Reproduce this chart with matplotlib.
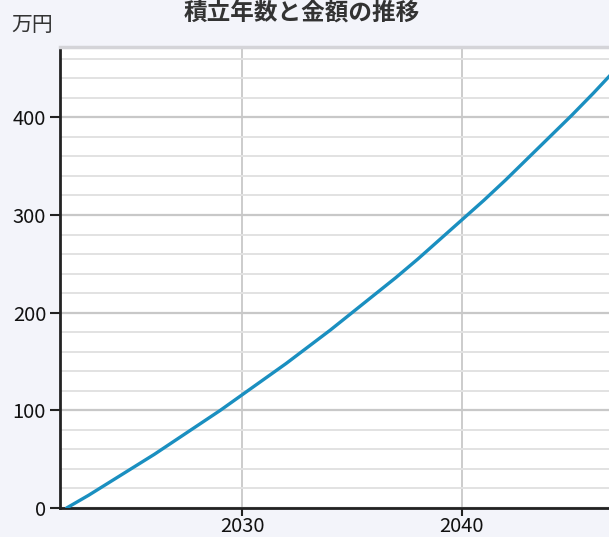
import matplotlib
matplotlib.use('Agg')
import matplotlib.pyplot as plt
from matplotlib.ticker import MultipleLocator

plt.rcParams['font.family'] = ['Noto Sans CJK JP', 'DejaVu Sans']

years = [2022, 2023, 2024, 2025, 2026, 2027, 2028, 2029, 2030, 2031, 2032, 2033, 2034,
         2035, 2036, 2037, 2038, 2039, 2040, 2041, 2042, 2043, 2044, 2045, 2046, 2047]
amounts = [0, 13, 27, 41, 55, 70, 85, 100, 116, 132, 148, 165, 182,
           200, 218, 236, 255, 275, 295, 315, 336, 358, 380, 402, 425, 449]
x_ticks = [2030, 2040]
y_ticks = [0, 100, 200, 300, 400]

fig = plt.figure(figsize=(6.09, 5.37), dpi=100)
fig.patch.set_facecolor('#f3f4fa')
ax = fig.add_axes([60/609, 1-508/537, 1-60/609, 461/537])
ax.set_facecolor('white')

ax.plot(years, amounts, color='#1a8fc0', lw=2.4, solid_capstyle='round', zorder=3)

ax.set_xlim(2021.7, 2046.7)
ax.set_ylim(0, 472)
ax.set_xticks(x_ticks)
ax.set_yticks(y_ticks)
ax.yaxis.set_minor_locator(MultipleLocator(20))

ax.grid(axis='y', which='major', color='#c8c8c8', lw=1.6)
ax.grid(axis='y', which='minor', color='#e2e2e2', lw=1.4)
ax.grid(axis='x', which='major', color='#cccccc', lw=1.4)
ax.set_axisbelow(True)

ax.spines['right'].set_visible(False)
ax.spines['top'].set_color('#d4d4d8')
ax.spines['top'].set_linewidth(2.5)
ax.spines['left'].set_color('#222222')
ax.spines['left'].set_linewidth(2)
ax.spines['bottom'].set_color('#222222')
ax.spines['bottom'].set_linewidth(2)

ax.tick_params(axis='y', which='major', length=7, width=1.5, color='#222222',
               labelsize=14.5, labelcolor='#111111', pad=3)
ax.tick_params(axis='y', which='minor', length=0)
ax.tick_params(axis='x', length=6, width=1.5, color='#222222',
               labelsize=14.5, labelcolor='#111111', pad=0)

fig.text(302/609, 1-13/537, '積立年数と金額の推移', ha='center', va='center',
         fontsize=17, fontweight='bold', color='#333333')
fig.text(11/609, 1-25/537, '万円', ha='left', va='center', fontsize=15, color='#333333')

fig.savefig('out.png', dpi=100, facecolor=fig.get_facecolor())
